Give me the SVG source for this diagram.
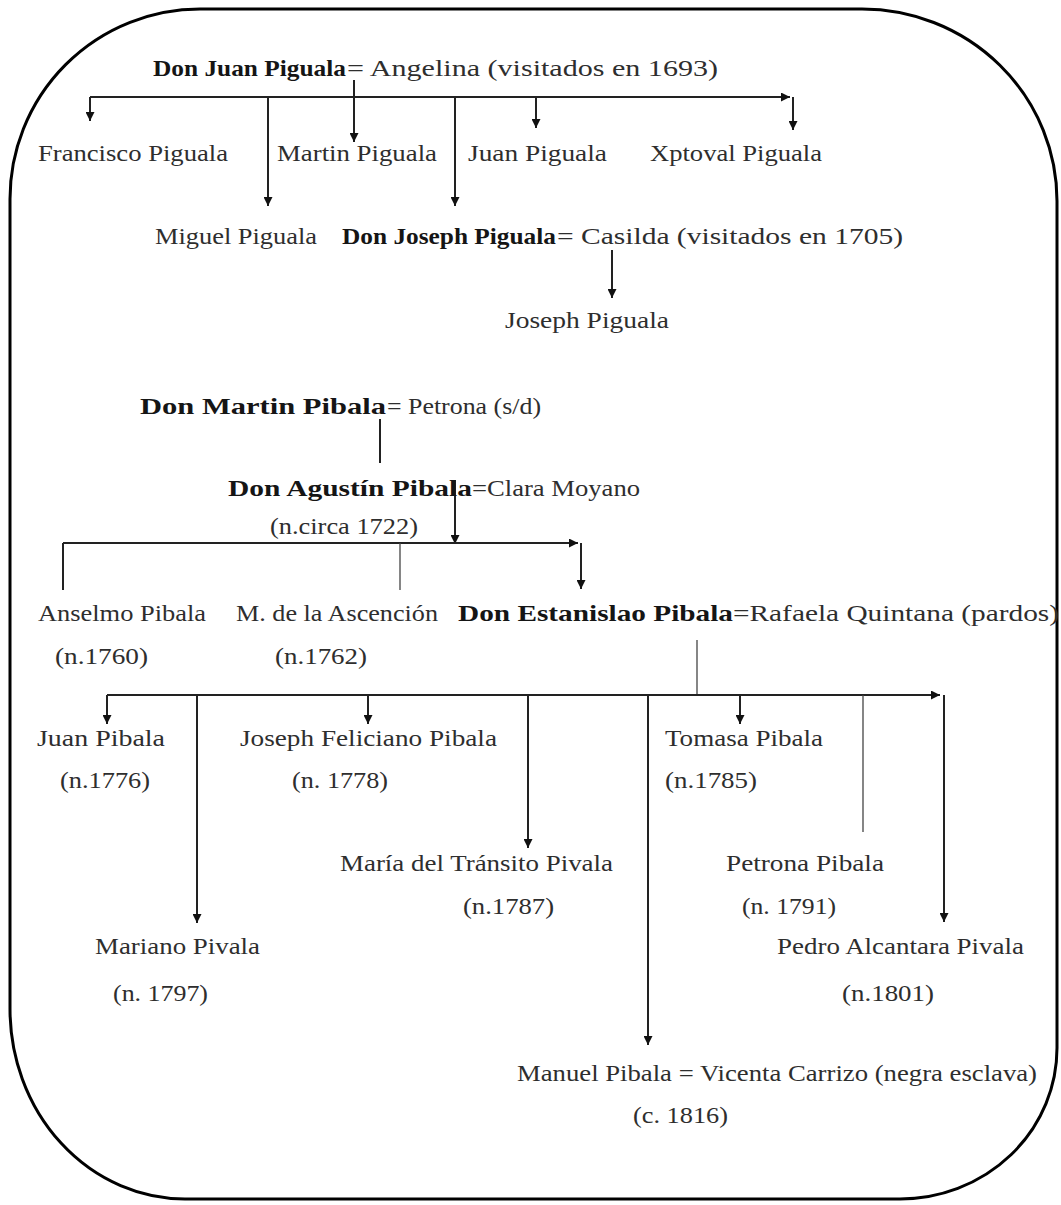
<svg xmlns="http://www.w3.org/2000/svg" width="1061" height="1205" viewBox="0 0 1061 1205">
<defs>
<marker id="ah" viewBox="0 0 10 10" refX="10" refY="5" markerWidth="10" markerHeight="9" markerUnits="userSpaceOnUse" orient="auto">
<path d="M0,0 L10,5 L0,10 z" fill="#111"/>
</marker>
</defs>
<style>
text{font-family:"Liberation Serif","DejaVu Serif",serif;font-size:24px;fill:#2e2e2e}
.b{font-weight:bold;fill:#151515}
.c{fill:none;stroke:#222;stroke-width:2}
.t{fill:none;stroke:#444;stroke-width:1.3}
.a{marker-end:url(#ah)}
.frame{fill:none;stroke:#000;stroke-width:3}
</style>
<rect width="1061" height="1205" fill="#fff"/>
<path class="frame" d="M200,9 H862 A195,192 0 0 1 1057,201 V1048 A157,151 0 0 1 900,1199 H185 A175,190 0 0 1 10,1009 V199 A190,190 0 0 1 200,9 Z"/>

<g id="connectors">
<path class="c a" d="M90,97 H790"/>
<path class="c a" d="M90,97 V121"/>
<path class="c a" d="M268,97 V206"/>
<path class="c a" d="M354,80 V142"/>
<path class="c a" d="M455,97 V206"/>
<path class="c a" d="M536,97 V128"/>
<path class="c a" d="M793,97 V130"/>
<path class="c a" d="M612,250 V298"/>
<path class="c" d="M380,419 V463"/>
<path class="c a" d="M455,480 V544"/>
<path class="c a" d="M63,543 H578"/>
<path class="c" d="M63,543 V590"/>
<path class="t" d="M400,543 V590"/>
<path class="c a" d="M581,543 V589"/>
<path class="t" d="M697,640 V695"/>
<path class="c a" d="M107,695 H940"/>
<path class="c a" d="M107,695 V724"/>
<path class="c a" d="M197,695 V923"/>
<path class="c a" d="M368,695 V724"/>
<path class="c a" d="M528,695 V848"/>
<path class="c a" d="M648,695 V1045"/>
<path class="c a" d="M740,695 V724"/>
<path class="t" d="M863,695 V832"/>
<path class="c a" d="M944,695 V922"/>
</g>

<g id="n-juan">
<text class="b" x="153" y="76" textLength="193" lengthAdjust="spacingAndGlyphs">Don Juan Piguala</text>
<text x="347" y="76" textLength="371" lengthAdjust="spacingAndGlyphs">= Angelina (visitados en 1693)</text>
</g>
<g id="n-francisco"><text x="38" y="161" textLength="190" lengthAdjust="spacingAndGlyphs">Francisco Piguala</text></g>
<g id="n-martin"><text x="277" y="161" textLength="160" lengthAdjust="spacingAndGlyphs">Martin Piguala</text></g>
<g id="n-juan2"><text x="468" y="161" textLength="139" lengthAdjust="spacingAndGlyphs">Juan Piguala</text></g>
<g id="n-xptoval"><text x="650" y="161" textLength="172" lengthAdjust="spacingAndGlyphs">Xptoval Piguala</text></g>
<g id="n-miguel"><text x="155" y="244" textLength="162" lengthAdjust="spacingAndGlyphs">Miguel Piguala</text></g>
<g id="n-donjoseph">
<text class="b" x="342" y="244" textLength="214" lengthAdjust="spacingAndGlyphs">Don Joseph Piguala</text>
<text x="557" y="244" textLength="346" lengthAdjust="spacingAndGlyphs">= Casilda (visitados en 1705)</text>
</g>
<g id="n-joseph"><text x="505" y="328" textLength="164" lengthAdjust="spacingAndGlyphs">Joseph Piguala</text></g>

<g id="n-donmartin">
<text class="b" x="140" y="414" textLength="246" lengthAdjust="spacingAndGlyphs">Don Martin Pibala</text>
<text x="387" y="414" textLength="154" lengthAdjust="spacingAndGlyphs">= Petrona (s/d)</text>
</g>
<g id="n-agustin">
<text class="b" x="228" y="496" textLength="244" lengthAdjust="spacingAndGlyphs">Don Agustín Pibala</text>
<text x="472" y="496" textLength="168" lengthAdjust="spacingAndGlyphs">=Clara Moyano</text>
<text x="270" y="534" textLength="148" lengthAdjust="spacingAndGlyphs">(n.circa 1722)</text>
</g>
<g id="n-anselmo">
<text x="38" y="621" textLength="168" lengthAdjust="spacingAndGlyphs">Anselmo Pibala</text>
<text x="55" y="664" textLength="93" lengthAdjust="spacingAndGlyphs">(n.1760)</text>
</g>
<g id="n-ascencion">
<text x="236" y="621" textLength="202" lengthAdjust="spacingAndGlyphs">M. de la Ascención</text>
<text x="275" y="664" textLength="92" lengthAdjust="spacingAndGlyphs">(n.1762)</text>
</g>
<g id="n-estanislao">
<text class="b" x="458" y="621" textLength="275" lengthAdjust="spacingAndGlyphs">Don Estanislao Pibala</text>
<text x="733" y="621" textLength="326" lengthAdjust="spacingAndGlyphs">=Rafaela Quintana (pardos)</text>
</g>

<g id="n-juanpibala">
<text x="37" y="746" textLength="128" lengthAdjust="spacingAndGlyphs">Juan Pibala</text>
<text x="60" y="788" textLength="90" lengthAdjust="spacingAndGlyphs">(n.1776)</text>
</g>
<g id="n-josephfeliciano">
<text x="240" y="746" textLength="257" lengthAdjust="spacingAndGlyphs">Joseph Feliciano Pibala</text>
<text x="292" y="788" textLength="96" lengthAdjust="spacingAndGlyphs">(n. 1778)</text>
</g>
<g id="n-tomasa">
<text x="665" y="746" textLength="158" lengthAdjust="spacingAndGlyphs">Tomasa Pibala</text>
<text x="665" y="788" textLength="92" lengthAdjust="spacingAndGlyphs">(n.1785)</text>
</g>
<g id="n-maria">
<text x="340" y="871" textLength="273" lengthAdjust="spacingAndGlyphs">María del Tránsito Pivala</text>
<text x="463" y="914" textLength="91" lengthAdjust="spacingAndGlyphs">(n.1787)</text>
</g>
<g id="n-petrona">
<text x="726" y="871" textLength="158" lengthAdjust="spacingAndGlyphs">Petrona Pibala</text>
<text x="742" y="914" textLength="94" lengthAdjust="spacingAndGlyphs">(n. 1791)</text>
</g>
<g id="n-mariano">
<text x="95" y="954" textLength="165" lengthAdjust="spacingAndGlyphs">Mariano Pivala</text>
<text x="113" y="1001" textLength="95" lengthAdjust="spacingAndGlyphs">(n. 1797)</text>
</g>
<g id="n-pedro">
<text x="777" y="954" textLength="247" lengthAdjust="spacingAndGlyphs">Pedro Alcantara Pivala</text>
<text x="842" y="1001" textLength="92" lengthAdjust="spacingAndGlyphs">(n.1801)</text>
</g>
<g id="n-manuel">
<text x="517" y="1081" textLength="520" lengthAdjust="spacingAndGlyphs">Manuel Pibala = Vicenta Carrizo (negra esclava)</text>
<text x="633" y="1123" textLength="95" lengthAdjust="spacingAndGlyphs">(c. 1816)</text>
</g>
</svg>
